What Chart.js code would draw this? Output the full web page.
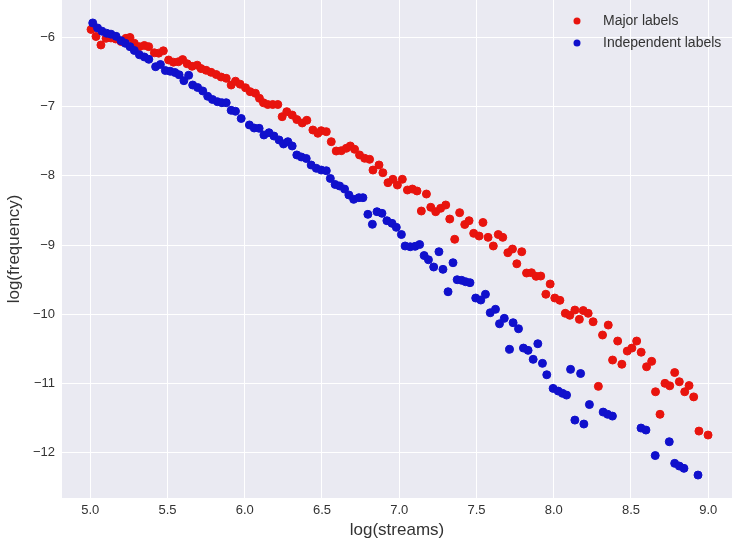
<!DOCTYPE html>
<html>
<head>
<meta charset="utf-8">
<script src="https://cdn.jsdelivr.net/npm/chart.js@4/dist/chart.umd.min.js"></script>
<style>
  html, body { margin: 0; padding: 0; background: #ffffff; }
  #wrap { width: 732px; height: 548px; }
</style>
</head>
<body>
<div id="wrap"><canvas id="scatterChart" width="732" height="548"></canvas></div>
<script>
// Values (log scale, both axes)
const seriesNames = ['Major labels', 'Independent labels'];

const majorX = [
    5.005, 5.037, 5.069, 5.102, 5.134, 5.165, 5.199, 5.231, 5.257, 5.285,
    5.318, 5.350, 5.378, 5.415, 5.443, 5.473, 5.507, 5.538, 5.570, 5.598,
    5.627, 5.659, 5.692, 5.717, 5.750, 5.782, 5.815, 5.847, 5.880, 5.912,
    5.940, 5.970, 6.005, 6.035, 6.069, 6.095, 6.121, 6.149, 6.181, 6.214,
    6.242, 6.272, 6.307, 6.337, 6.372, 6.402, 6.441, 6.473, 6.495, 6.528,
    6.560, 6.592, 6.625, 6.657, 6.683, 6.711, 6.743, 6.776, 6.808, 6.830,
    6.869, 6.894, 6.927, 6.959, 6.988, 7.020, 7.053, 7.085, 7.115, 7.143,
    7.176, 7.204, 7.236, 7.268, 7.301, 7.327, 7.359, 7.391, 7.424, 7.452,
    7.482, 7.517, 7.542, 7.575, 7.609, 7.641, 7.670, 7.703, 7.733, 7.761,
    7.793, 7.824, 7.856, 7.886, 7.916, 7.949, 7.977, 8.007, 8.040, 8.075,
    8.104, 8.137, 8.166, 8.191, 8.223, 8.255, 8.289, 8.316, 8.353, 8.381,
    8.414, 8.441, 8.476, 8.506, 8.537, 8.566, 8.601, 8.634, 8.659, 8.688,
    8.720, 8.751, 8.783, 8.813, 8.848, 8.876, 8.906, 8.940, 8.999
];
const majorY = [
    -5.881, -5.983, -6.106, -6.009, -6.004, -6.019, -6.055, -6.009, -5.997, -6.081,
    -6.130, -6.113, -6.130, -6.219, -6.224, -6.190, -6.323, -6.355, -6.349, -6.317,
    -6.378, -6.414, -6.398, -6.447, -6.472, -6.501, -6.533, -6.569, -6.588, -6.685,
    -6.630, -6.673, -6.725, -6.781, -6.805, -6.877, -6.942, -6.967, -6.967, -6.967,
    -7.143, -7.071, -7.119, -7.185, -7.234, -7.195, -7.336, -7.383, -7.346, -7.360,
    -7.505, -7.640, -7.635, -7.601, -7.567, -7.615, -7.697, -7.745, -7.760, -7.915,
    -7.842, -7.954, -8.098, -8.049, -8.132, -8.049, -8.204, -8.190, -8.218, -8.508,
    -8.262, -8.454, -8.518, -8.469, -8.421, -8.624, -8.917, -8.532, -8.703, -8.648,
    -8.831, -8.870, -8.674, -8.889, -9.014, -8.848, -8.889, -9.111, -9.058, -9.271,
    -9.097, -9.405, -9.401, -9.453, -9.449, -9.712, -9.564, -9.767, -9.800, -9.988,
    -10.017, -9.941, -10.075, -9.948, -9.988, -10.110, -11.045, -10.302, -10.158, -10.664,
    -10.389, -10.725, -10.534, -10.491, -10.389, -10.551, -10.761, -10.683, -11.123, -11.449,
    -11.001, -11.037, -10.845, -10.978, -11.123, -11.033, -11.197, -11.692, -11.749
];

const indepX = [
    5.016, 5.047, 5.076, 5.106, 5.134, 5.167, 5.199, 5.227, 5.257, 5.285,
    5.318, 5.350, 5.379, 5.423, 5.454, 5.486, 5.517, 5.548, 5.575, 5.606,
    5.637, 5.663, 5.695, 5.728, 5.760, 5.791, 5.823, 5.852, 5.880, 5.912,
    5.940, 5.977, 6.030, 6.061, 6.093, 6.124, 6.157, 6.189, 6.222, 6.251,
    6.279, 6.307, 6.337, 6.366, 6.398, 6.430, 6.463, 6.495, 6.528, 6.554,
    6.585, 6.614, 6.646, 6.674, 6.705, 6.739, 6.765, 6.797, 6.826, 6.856,
    6.888, 6.920, 6.953, 6.981, 7.014, 7.038, 7.071, 7.103, 7.132, 7.161,
    7.189, 7.223, 7.257, 7.283, 7.316, 7.348, 7.375, 7.404, 7.430, 7.458,
    7.495, 7.528, 7.558, 7.589, 7.623, 7.649, 7.680, 7.714, 7.737, 7.772,
    7.804, 7.834, 7.867, 7.897, 7.927, 7.955, 7.996, 8.029, 8.057, 8.083,
    8.109, 8.137, 8.174, 8.195, 8.231, 8.320, 8.349, 8.380, 8.565, 8.597,
    8.657, 8.748, 8.783, 8.813, 8.843, 8.934
];
const indepY = [
    -5.787, -5.860, -5.906, -5.936, -5.949, -5.980, -6.043, -6.081, -6.130, -6.185,
    -6.247, -6.279, -6.313, -6.420, -6.388, -6.475, -6.486, -6.504, -6.537, -6.622,
    -6.544, -6.685, -6.721, -6.771, -6.848, -6.894, -6.926, -6.941, -6.941, -7.051,
    -7.065, -7.169, -7.263, -7.307, -7.311, -7.408, -7.375, -7.423, -7.480, -7.538,
    -7.505, -7.567, -7.697, -7.726, -7.748, -7.842, -7.890, -7.915, -7.925, -8.037,
    -8.124, -8.146, -8.190, -8.276, -8.339, -8.315, -8.315, -8.556, -8.700, -8.518,
    -8.541, -8.648, -8.686, -8.744, -8.848, -9.014, -9.025, -9.019, -8.993, -9.152,
    -9.213, -9.318, -9.097, -9.352, -9.676, -9.256, -9.502, -9.511, -9.531, -9.545,
    -9.767, -9.796, -9.713, -9.980, -9.930, -10.139, -10.061, -10.509, -10.124, -10.211,
    -10.491, -10.524, -10.654, -10.428, -10.712, -10.877, -11.074, -11.113, -11.146, -11.171,
    -10.799, -11.533, -10.859, -11.590, -11.308, -11.417, -11.449, -11.475, -11.648, -11.677,
    -12.046, -11.846, -12.159, -12.198, -12.231, -12.328
];

// Tick values shown on the axes
const xTicks = [5.0, 5.5, 6.0, 6.5, 7.0, 7.5, 8.0, 8.5, 9.0];
const yTicks = [-12, -11, -10, -9, -8, -7, -6];

const toPoints = (xs, ys) => xs.map((x, i) => ({ x: x, y: ys[i] }));

const FONT = "'Liberation Sans', Arial, sans-serif";
const TEXT = '#333333';

// Seaborn-like grey panel behind the data
const panelBackground = {
    id: 'panelBackground',
    beforeDraw(chart) {
        const { ctx, chartArea: a } = chart;
        ctx.save();
        ctx.fillStyle = '#eaeaf2';
        ctx.fillRect(a.left, a.top, a.right - a.left, a.bottom - a.top);
        ctx.restore();
    }
};

// Legend drawn inside the top right corner of the plot
const cornerLegend = {
    id: 'cornerLegend',
    afterDraw(chart) {
        const { ctx, chartArea: a } = chart;
        ctx.save();
        ctx.font = '14px ' + FONT;
        ctx.textBaseline = 'middle';
        chart.data.datasets.forEach((ds, i) => {
            const y = a.top + 21 + i * 22;
            ctx.beginPath();
            ctx.arc(a.right - 155, y, 3.5, 0, Math.PI * 2);
            ctx.fillStyle = ds.backgroundColor;
            ctx.fill();
            ctx.fillStyle = TEXT;
            ctx.fillText(ds.label, a.right - 129, y);
        });
        ctx.restore();
    }
};

// the plot runs to the top and right edges, so drop the label padding
const noEdgePadding = s => {
    s.paddingTop = 0;
    s.paddingBottom = 0;
    s.paddingLeft = 0;
    s.paddingRight = 0;
};

const scatterCtx = document.getElementById('scatterChart').getContext('2d');
const scatterChart = new Chart(scatterCtx, {
    type: 'scatter',
    data: {
        datasets: [{
            label: seriesNames[0],
            data: toPoints(majorX, majorY),
            backgroundColor: '#e8140e',
            borderColor: '#e8140e',
            order: 1
        }, {
            label: seriesNames[1],
            data: toPoints(indepX, indepY),
            backgroundColor: '#1010cc',
            borderColor: '#1010cc',
            order: 0
        }]
    },
    options: {
        responsive: false,
        animation: false,
        devicePixelRatio: 1,
        layout: { padding: 0, autoPadding: false },
        elements: {
            point: { radius: 4, borderWidth: 1, hoverRadius: 4 }
        },
        plugins: {
            legend: { display: false },
            tooltip: { enabled: false }
        },
        scales: {
            x: {
                type: 'linear',
                min: 4.817,
                max: 9.154,
                afterBuildTicks: s => { s.ticks = xTicks.map(v => ({ value: v })); },
                afterFit: s => { s.height = 50; noEdgePadding(s); },
                grid: { color: '#ffffff', lineWidth: 1, drawTicks: false },
                border: { display: false },
                ticks: {
                    padding: 5,
                    maxRotation: 0,
                    color: TEXT,
                    font: { family: FONT, size: 13 },
                    callback: v => v.toFixed(1)
                },
                title: {
                    display: true,
                    text: 'log(streams)',
                    color: TEXT,
                    font: { family: FONT, size: 17 },
                    padding: { top: 0, bottom: 7 }
                }
            },
            y: {
                type: 'linear',
                min: -12.66,
                max: -5.455,
                afterBuildTicks: s => { s.ticks = yTicks.map(v => ({ value: v })); },
                afterFit: s => { s.width = 62; noEdgePadding(s); },
                grid: { color: '#ffffff', lineWidth: 1, drawTicks: false },
                border: { display: false },
                ticks: {
                    padding: 7,
                    color: TEXT,
                    font: { family: FONT, size: 13 },
                    callback: v => (v < 0 ? '\u2212' : '') + Math.abs(v)
                },
                title: {
                    display: true,
                    text: 'log(frequency)',
                    color: TEXT,
                    font: { family: FONT, size: 17 },
                    padding: { top: 4, bottom: 0 }
                }
            }
        }
    },
    plugins: [panelBackground, cornerLegend]
});
</script>
</body>
</html>
